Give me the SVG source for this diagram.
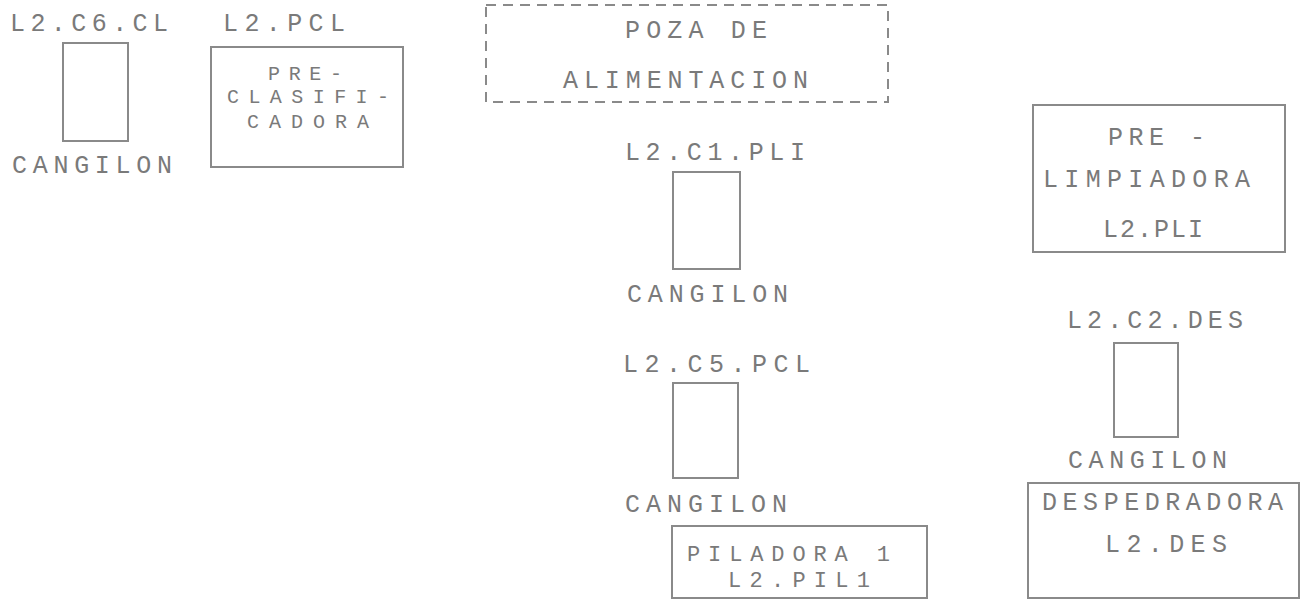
<svg xmlns="http://www.w3.org/2000/svg" width="1310" height="600" viewBox="0 0 1310 600">
<style>
text{font-family:"Liberation Mono","DejaVu Sans Mono",monospace;font-size:25px;fill:#7a7a7a;}
text.s{font-size:20px;}
text.m{font-size:22px;}
.box{fill:none;stroke:#8a8a8a;stroke-width:2;}
.dash{fill:none;stroke:#8a8a8a;stroke-width:2;stroke-dasharray:10 7;}
</style>
<rect width="1310" height="600" fill="#ffffff"/>
<g id="cangilon-c6">
<text x="10" y="31" textLength="158" lengthAdjust="spacing">L2.C6.CL</text>
<rect class="box" x="63" y="43" width="65" height="98"/>
<text x="12" y="173" textLength="160" lengthAdjust="spacing">CANGILON</text>
</g>
<g id="preclasificadora">
<text x="223" y="31" textLength="122" lengthAdjust="spacing">L2.PCL</text>
<rect class="box" x="211" y="47" width="192" height="120"/>
<text class="s" x="268" y="80" textLength="74" lengthAdjust="spacing">PRE-</text>
<text class="s" x="227" y="103" textLength="162" lengthAdjust="spacing">CLASIFI-</text>
<text class="s" x="247" y="128" textLength="122" lengthAdjust="spacing">CADORA</text>
</g>
<g id="poza">
<rect class="dash" x="486" y="5" width="402" height="97"/>
<text x="625" y="38" textLength="142" lengthAdjust="spacing">POZA DE</text>
<text x="563" y="88" textLength="245" lengthAdjust="spacing">ALIMENTACION</text>
</g>
<g id="cangilon-c1">
<text x="625" y="160" textLength="180" lengthAdjust="spacing">L2.C1.PLI</text>
<rect class="box" x="673" y="172" width="67" height="97"/>
<text x="627" y="302" textLength="161" lengthAdjust="spacing">CANGILON</text>
</g>
<g id="cangilon-c5">
<text x="623" y="372" textLength="187" lengthAdjust="spacing">L2.C5.PCL</text>
<rect class="box" x="673" y="383" width="65" height="95"/>
<text x="625" y="512" textLength="162" lengthAdjust="spacing">CANGILON</text>
</g>
<g id="piladora">
<rect class="box" x="672" y="526" width="255" height="72"/>
<text class="m" x="687" y="561" textLength="203" lengthAdjust="spacing">PILADORA 1</text>
<text class="m" x="728" y="587" textLength="142" lengthAdjust="spacing">L2.PIL1</text>
</g>
<g id="prelimpiadora">
<rect class="box" x="1033" y="105" width="252" height="147"/>
<text x="1108" y="145" textLength="97" lengthAdjust="spacing">PRE -</text>
<text x="1043" y="187" textLength="207" lengthAdjust="spacing">LIMPIADORA</text>
<text x="1103" y="237" textLength="100" lengthAdjust="spacing">L2.PLI</text>
</g>
<g id="cangilon-c2">
<text x="1067" y="328" textLength="176" lengthAdjust="spacing">L2.C2.DES</text>
<rect class="box" x="1114" y="343" width="64" height="94"/>
<text x="1068" y="468" textLength="159" lengthAdjust="spacing">CANGILON</text>
</g>
<g id="despedradora">
<rect class="box" x="1028" y="483" width="271" height="115"/>
<text x="1042" y="510" textLength="241" lengthAdjust="spacing">DESPEDRADORA</text>
<text x="1105" y="552" textLength="122" lengthAdjust="spacing">L2.DES</text>
</g>
<g id="connectors"></g>
</svg>
